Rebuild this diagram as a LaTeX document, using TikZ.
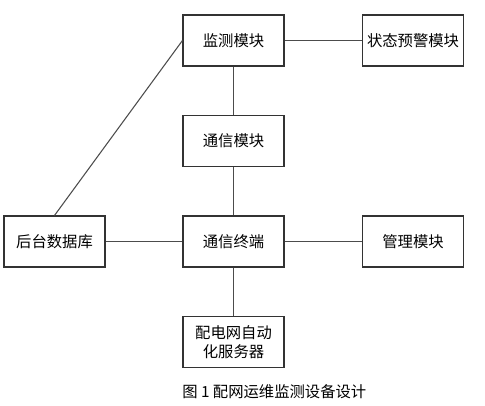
\documentclass[tikz,border=0pt]{standalone}
\usepackage{fontspec}
\setmainfont{Noto Sans CJK SC}
\usepackage{tikz}

\tikzset{
    box/.style={draw=black!80, line width=0.8pt, minimum width=75.75pt, minimum height=38.25pt,
        inner sep=0pt, align=center, font=\fontsize{11.5}{14.25}\selectfont},
    link/.style={draw=black!70, line width=0.8pt}
}

\begin{document}
\begin{tikzpicture}[x=0.75pt,y=-0.75pt]
    \useasboundingbox (0,0) rectangle (485,406);

    \node[box] (jc) at (233.5,40.5) {监测模块};      % top row
    \node[box] (yj) at (413,40.5) {状态预警模块};
    \node[box] (tx) at (233.5,141) {通信模块};
    \node[box] (sjk) at (54.5,241.5) {后台数据库};   % middle row
    \node[box] (zd) at (233.5,241.5) {通信终端};
    \node[box] (gl) at (413,241.5) {管理模块};
    \node[box] (fw) at (233.5,342) {配电网自动\\化服务器};

    \draw[link] (jc) -- (yj);
    \draw[link] (jc) -- (tx);
    \draw[link] (tx) -- (zd);
    \draw[link] (sjk) -- (zd);
    \draw[link] (zd) -- (gl);
    \draw[link] (zd) -- (fw);
    \draw[link] (sjk.north) -- (jc.west);

    \node[anchor=west, inner sep=0pt, font=\fontsize{11.5}{13}\selectfont] (cap) at (182,392) {图 1 配网运维监测设备设计};
\end{tikzpicture}
\end{document}
